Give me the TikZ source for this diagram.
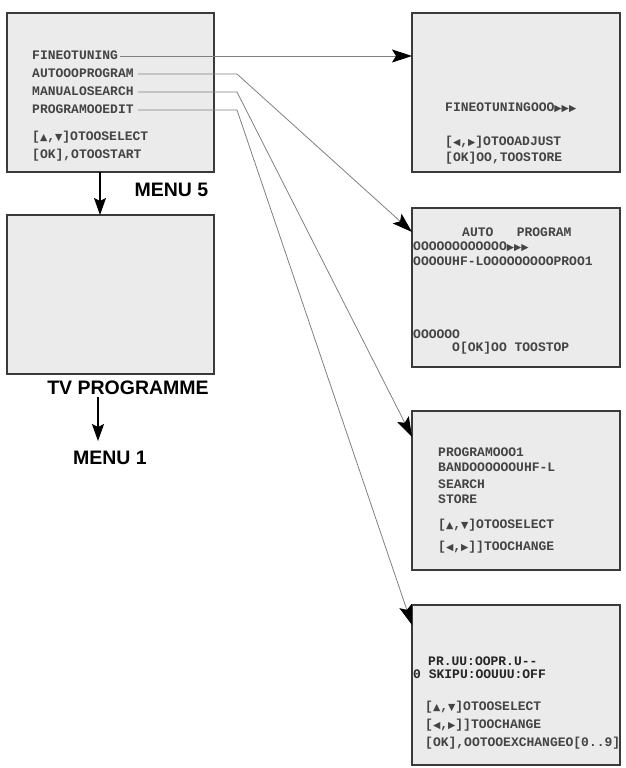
\documentclass[tikz,border=0pt]{standalone}
\usepackage{fontspec}
\setmainfont{Liberation Sans}
\newfontfamily\scrfont{Liberation Mono}
\newfontfamily\symf{DejaVu Sans}
\usetikzlibrary{arrows.meta}
\newcommand{\symUp}{{\symf\fontsize{9.5}{9.5}\selectfont ▲}}
\newcommand{\symDn}{{\symf\fontsize{9.5}{9.5}\selectfont ▼}}
\newcommand{\symLt}{{\symf\fontsize{9.5}{9.5}\selectfont ◀}}
\newcommand{\symRt}{{\symf\fontsize{9.5}{9.5}\selectfont ▶}}
\definecolor{scrfill}{HTML}{EBEBEB}
\definecolor{scrline}{HTML}{3A3A3A}
\definecolor{osdtext}{HTML}{444444}
\definecolor{linkgray}{HTML}{808080}
\tikzset{
  screen/.style={draw=scrline, line width=1.4pt, fill=scrfill, inner sep=0pt, outer sep=0pt, anchor=north west},
  osd/.style={font=\scrfont\bfseries\fontsize{13}{13}\selectfont, text=osdtext, anchor=west, inner sep=0pt, text height=7.5pt, text depth=0pt},
  osdb/.style={osd, text=black!85},
  lbl/.style={font=\bfseries\fontsize{19.5}{19.5}\selectfont, inner sep=0pt, text height=13.5pt, text depth=0pt},
  link/.style={draw=linkgray, line width=0.8pt, -{Stealth[length=20pt,width=13pt,inset=4pt,color=black]}},
  flow/.style={draw=black, line width=1.8pt, -{Stealth[length=17pt,width=12pt,inset=3pt]}}
}
\begin{document}
\begin{tikzpicture}[x=1pt,y=-1pt]
\useasboundingbox (0,0) rectangle (626,768);
% screens
\node[screen, minimum width=207pt, minimum height=159pt] (m5) at (7,13) {};
\node[screen, minimum width=207pt, minimum height=159pt] (tv) at (7,215) {};
\node[screen, minimum width=208pt, minimum height=159pt] (b1) at (412,13) {};
\node[screen, minimum width=208pt, minimum height=159pt] (b2) at (412,208) {};
\node[screen, minimum width=208pt, minimum height=159pt] (b3) at (412,411) {};
\node[screen, minimum width=208pt, minimum height=160pt] (b4) at (412,605) {};
% menu 5 text
\node[osd] (t1) at (32,56) {FINEOTUNING};
\node[osd] (t2) at (32,74) {AUTOOOPROGRAM};
\node[osd] (t3) at (32,92) {MANUALOSEARCH};
\node[osd] (t4) at (32,110) {PROGRAMOOEDIT};
\node[osd] (t5) at (32,137) {[\symUp,\symDn]OTOOSELECT};
\node[osd] (t6) at (32,155) {[OK],OTOOSTART};
% box 1
\node[osd] (a1) at (445,108) {FINEOTUNINGOOO\symRt\symRt\symRt};
\node[osd] (a2) at (445,142) {[\symLt,\symRt]OTOOADJUST};
\node[osd] (a3) at (445,158) {[OK]OO,TOOSTORE};
% box 2
\node[osd] (p1) at (462,233) {AUTO\ \ \ PROGRAM};
\node[osd] (p2) at (413,247) {OOOOOOOOOOOO\symRt\symRt\symRt};
\node[osd] (p3) at (413,262) {OOOOUHF-LOOOOOOOOOPROO1};
\node[osd] (p4) at (413,335) {OOOOOO};
\node[osd] (p5) at (452,348) {O[OK]OO\ TOOSTOP};
% box 3
\node[osd] (s1) at (438,453) {PROGRAMOOO1};
\node[osd] (s2) at (438,468) {BANDOOOOOOUHF-L};
\node[osd] (s3) at (438,485) {SEARCH};
\node[osd] (s4) at (438,500) {STORE};
\node[osd] (s5) at (438,525) {[\symUp,\symDn]OTOOSELECT};
\node[osd] (s6) at (438,547) {[\symLt,\symRt]]TOOCHANGE};
% box 4
\node[osdb] (e1) at (428,662) {PR.UU:OOPR.U--};
\node[osdb] (e2) at (413,675) {0 SKIPU:OOUUU:OFF};
\node[osd] (e3) at (425,707) {[\symUp,\symDn]OTOOSELECT};
\node[osd] (e4) at (425,725) {[\symLt,\symRt]]TOOCHANGE};
\node[osd] (e5) at (425,743) {[OK],OOTOOEXCHANGEO[0..9]};
% labels
\node[lbl] (menu5) at (171.5,190) {MENU 5};
\node[lbl] (tvl) at (128,388) {TV PROGRAMME};
\node[lbl] (menu1) at (110,458) {MENU 1};
% connectors
\coordinate (bend) at (237,0);
\draw[link] ([xshift=2pt]t1.east) -- (t1.east -| b1.west);
\draw[link] ([xshift=4pt]t2.east) -- (t2.east -| bend) -- ([yshift=-24pt]b2.north west);
\draw[link] ([xshift=4pt]t3.east) -- (t3.east -| bend) -- ([yshift=-26pt]b3.north west);
\draw[link] ([xshift=4pt]t4.east) -- (t4.east -| bend) -- ([yshift=-20pt]b4.north west);
\draw[flow] ([xshift=-10.5pt]m5.south) -- ([xshift=-10.5pt]tv.north);
\draw[flow, shorten >=10pt] ([xshift=-30pt,yshift=-2pt]tvl.south) -- ([xshift=-30pt]tvl.south |- menu1.north);
\end{tikzpicture}
\end{document}
